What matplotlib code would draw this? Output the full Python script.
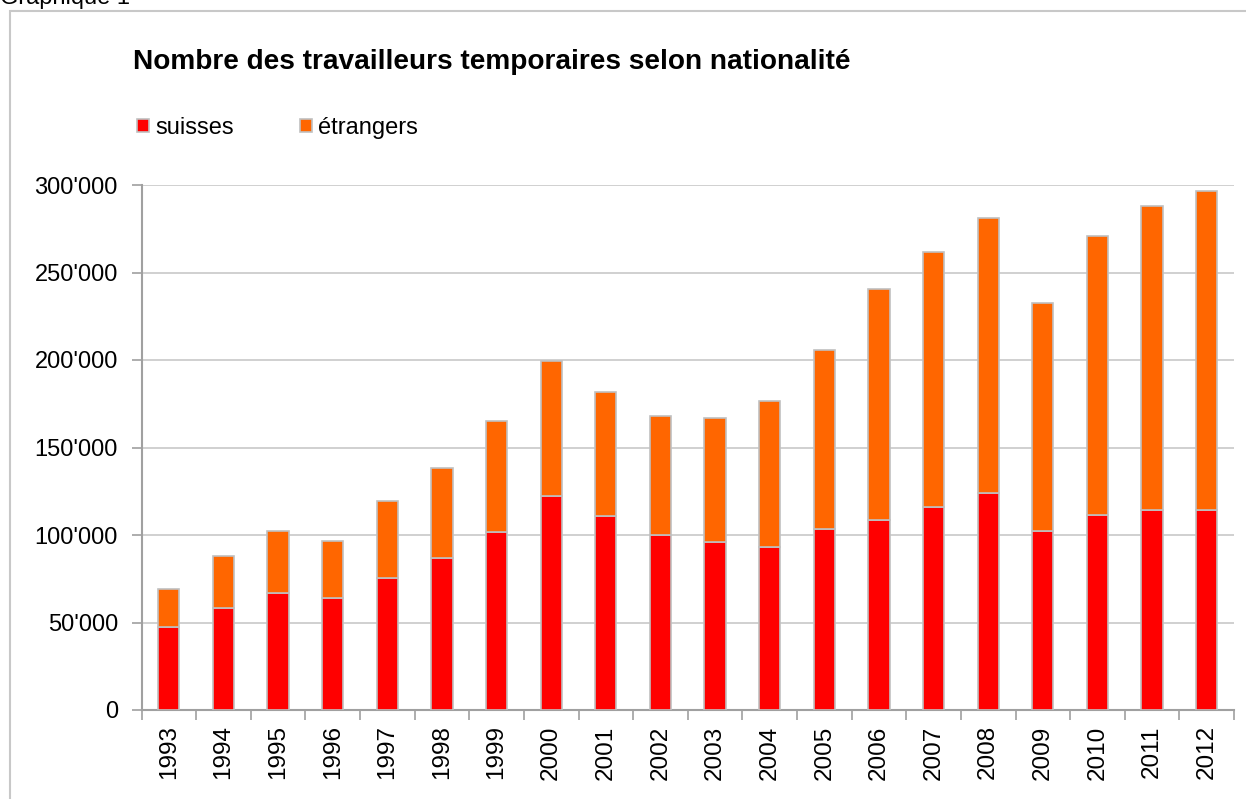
import matplotlib
matplotlib.use("Agg")
import matplotlib.pyplot as plt
from matplotlib.patches import Rectangle
from matplotlib.ticker import FuncFormatter
import numpy as np

plt.rcParams['font.family'] = ['Liberation Sans', 'DejaVu Sans']

# data
years = [str(y) for y in range(1993, 2013)]
suisses = [47400, 58300, 66900, 64000, 75400, 86900, 101700, 122300, 110900, 100000,
           96000, 93100, 103400, 108600, 116000, 124000, 102300, 111400, 114300, 114300]
totals = [69100, 88000, 102300, 96600, 119400, 138300, 165100, 199400, 181700, 168000,
          166900, 176600, 205700, 240600, 261700, 281100, 232600, 270900, 288000, 296600]
etrangers = [t - s for t, s in zip(totals, suisses)]

fig = plt.figure(figsize=(12.46, 7.99), dpi=100)

# outer frame (cut at right and bottom like the source)
fig.patches.append(Rectangle((10 / 1246, -0.1), 1.2, 1 - 11 / 799 + 0.1,
                             transform=fig.transFigure, fill=False,
                             edgecolor='#c8c8c8', linewidth=1.5))
fig.text(0.0, 1 - 4 / 799, "Graphique 1", fontsize=17, va='baseline', ha='left')

ax = fig.add_axes([141.5 / 1246, 1 - 710 / 799, (1234 - 141.5) / 1246, (710 - 185) / 799])

x = np.arange(len(years))
edge = '#c0c0c0'
ax.bar(x, suisses, width=0.39, color='#ff0000', edgecolor=edge, linewidth=1.2,
       label='suisses', zorder=3)
ax.bar(x, etrangers, width=0.39, bottom=suisses, color='#ff6600', edgecolor=edge,
       linewidth=1.2, label='étrangers', zorder=3)

ax.set_xlim(-0.5, len(years) - 0.5)
ax.set_ylim(0, 300000)
ax.set_yticks(np.arange(0, 300001, 50000))
ax.yaxis.set_major_formatter(FuncFormatter(
    lambda v, p: '0' if v == 0 else f"{int(v):,}".replace(',', "'")))
ax.grid(axis='y', color='#c8c8c8', linewidth=1.2, zorder=0)

ax.set_xticks(x)
ax.set_xticklabels(years, rotation=90, fontsize=17.5)
ax.set_xticks(np.arange(-0.5, len(years)), minor=True)
ax.tick_params(axis='x', which='major', length=0, pad=11)
ax.tick_params(axis='x', which='minor', length=7, width=1.2, color='#a0a0a0')
ax.tick_params(axis='y', length=7, width=1.2, color='#a0a0a0', labelsize=17, pad=10)

for s in ['top', 'right']:
    ax.spines[s].set_visible(False)
for s in ['left', 'bottom']:
    ax.spines[s].set_color('#a0a0a0')
    ax.spines[s].set_linewidth(1.5)

fig.text(133 / 1246, 1 - 62 / 799, "Nombre des travailleurs temporaires selon nationalité",
         fontsize=20.2, fontweight='bold', va='center', ha='left')

leg = fig.legend(loc='center left', bbox_to_anchor=(128 / 1246, 1 - 128 / 799), ncol=2,
                 frameon=False, fontsize=17, handlelength=0.5, handleheight=0.5,
                 handletextpad=0.25, columnspacing=2.8, borderaxespad=0)

fig.savefig("out.png", dpi=100)
